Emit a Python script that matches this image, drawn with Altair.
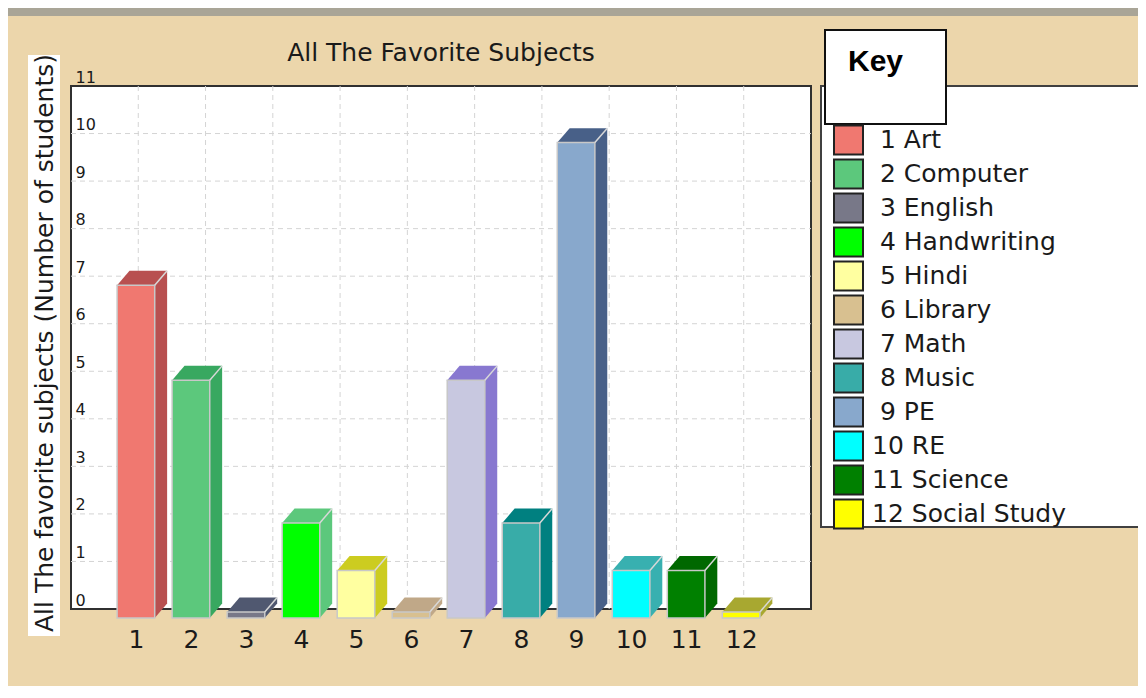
import altair as alt
import pandas as pd

# ---------------- data ----------------
subjects = ["Art", "Computer", "English", "Handwriting", "Hindi", "Library",
            "Math", "Music", "PE", "RE", "Science", "Social Study"]
counts = [7, 5, 0, 2, 1, 0, 5, 2, 10, 1, 1, 0]
x_ticks = list(range(1, 13))
y_ticks = list(range(0, 12))
front_colors = ["#F07870", "#5CC87C", "#787888", "#00FF00", "#FFFFA0", "#D8C090",
                "#C8C8E0", "#38ACA8", "#88A8CC", "#00FFFF", "#008000", "#FFFF00"]
shade_colors = ["#B85050", "#38A860", "#505870", "#5CC87C", "#CCCC20", "#C0A888",
                "#8878D0", "#008080", "#486088", "#38B0B0", "#006800", "#A8A830"]
title_text = "All The Favorite Subjects"
y_title_text = "All The favorite subjects (Number of students)"
key_text = "Key"

# ---------------- geometry ----------------
W, H = 740, 523
X_DOM = [-0.18, 13.27]
Y_DOM = [0, 11]
px_x = W / (X_DOM[1] - X_DOM[0])
px_y = H / (Y_DOM[1] - Y_DOM[0])
half_w = 18.8 / px_x
depth_x = 12.4 / px_x
depth_y = 14.4 / px_y
drop = 9 / px_y
min_h = 6 / px_y

# single-digit entries get a leading (non-trimmed) space, as in the key
labels = [("\u200b\u00a0" if i < 9 else "") + f"{i + 1} {s}" for i, s in enumerate(subjects)]

front_rows, shade_rows, edge_rows = [], [], []
for i, (lab, v) in enumerate(zip(labels, counts)):
    c = x_ticks[i]
    xl, xr = c - half_w, c + half_w
    fb = -drop
    ft = fb + max(v, min_h)
    front_rows.append(dict(label=lab, xl=xl, xr=xr, yb=fb, yt=ft))
    pts = [(xl, ft, fb), (xl + depth_x, ft + depth_y, fb),
           (xr, ft + depth_y, fb), (xr + depth_x, ft + depth_y, fb + depth_y)]
    for j, (px, py, py2) in enumerate(pts):
        shade_rows.append(dict(bar=f"b{i:02d}", k=j, px=px, top=py, bot=py2))
    edge_rows.append(dict(ex=xr, ey=ft, ex2=xr + depth_x, ey2=ft + depth_y))

front_df = pd.DataFrame(front_rows)
shade_df = pd.DataFrame(shade_rows)
edge_df = pd.DataFrame(edge_rows)
hgrid_df = pd.DataFrame({"v": y_ticks[1:11]})
span = X_DOM[1] - X_DOM[0]
vgrid_df = pd.DataFrame({"g": [X_DOM[0] + k * span / 11 for k in range(1, 11)]})
one = pd.DataFrame({"a": [0]})
bar_ids = [f"b{i:02d}" for i in range(12)]

FONT = "DejaVu Sans"
TXT = "#1a1a1a"

xscale = alt.Scale(domain=X_DOM, nice=False, zero=False)
yscale = alt.Scale(domain=Y_DOM, nice=False, zero=False)
xaxis = alt.Axis(values=x_ticks, format="d", title=None, grid=False, ticks=False,
                 tickSize=0, domain=False, labelFont=FONT, labelFontSize=25,
                 labelColor=TXT, labelPadding=18, labelFlush=False,
                 labelOverlap=False, zindex=1)
yaxis = alt.Axis(values=y_ticks, format="d", title=None, grid=False, ticks=False,
                 tickSize=0, domain=False, labelFont=FONT, labelFontSize=16,
                 labelColor=TXT, labelAlign="left", labelBaseline="alphabetic",
                 labelPadding=-4, labelOffset=-4, labelFlush=False,
                 labelOverlap=False, zindex=1)


def X(f):
    return alt.X(f, scale=xscale, axis=xaxis)


def Y(f):
    return alt.Y(f, scale=yscale, axis=yaxis)


# ---------------- decorations ----------------
strip = alt.Chart(one).mark_rect(color="#A9A597").encode(
    x=alt.value(-63), x2=alt.value(1067), y=alt.value(-78), y2=alt.value(-70))

ytitle_box = alt.Chart(one).mark_rect(color="white").encode(
    x=alt.value(-43), x2=alt.value(-11), y=alt.value(-31), y2=alt.value(550))
ytitle = alt.Chart(one).mark_text(font=FONT, fontSize=25, color=TXT, angle=270,
                                  align="center", baseline="alphabetic").encode(
    x=alt.value(-18), y=alt.value(257), text=alt.value(y_title_text))

title = alt.Chart(one).mark_text(font=FONT, fontSize=25, color=TXT,
                                 align="center", baseline="alphabetic").encode(
    x=alt.value(W / 2), y=alt.value(-25), text=alt.value(title_text))

frame = alt.Chart(one).mark_rect(fill="white", stroke="#303030", strokeWidth=2).encode(
    x=alt.value(0), x2=alt.value(W), y=alt.value(0), y2=alt.value(H))

legend_box = alt.Chart(one).mark_rect(fill="white", stroke="#404040", strokeWidth=2).encode(
    x=alt.value(750), x2=alt.value(1090), y=alt.value(0), y2=alt.value(441))
key_box = alt.Chart(one).mark_rect(fill="white", stroke="#101010", strokeWidth=2).encode(
    x=alt.value(754), x2=alt.value(875), y=alt.value(-56), y2=alt.value(38))
key_label = alt.Chart(one).mark_text(font="Liberation Sans", fontSize=30, fontWeight="bold",
                                     color="#000000", align="left", baseline="alphabetic").encode(
    x=alt.value(777), y=alt.value(-15), text=alt.value(key_text))

# ---------------- grid ----------------
hgrid = alt.Chart(hgrid_df).mark_rule(color="#D4D4D4", strokeDash=[5, 4], strokeWidth=1).encode(
    y=Y("v:Q"), x=alt.value(0), x2=alt.value(W))
vgrid = alt.Chart(vgrid_df).mark_rule(color="#D4D4D4", strokeDash=[5, 4], strokeWidth=1).encode(
    x=X("g:Q"), y=alt.value(0), y2=alt.value(H))

# ---------------- bars ----------------
shade = alt.Chart(shade_df).mark_area(interpolate="linear", opacity=1).encode(
    x=X("px:Q"), y=Y("top:Q"), y2=alt.Y2("bot:Q"),
    color=alt.Color("bar:N", scale=alt.Scale(domain=bar_ids, range=shade_colors), legend=None))

front = alt.Chart(front_df).mark_rect(stroke="#C8C8C8", strokeWidth=1.5).encode(
    x=X("xl:Q"), x2="xr:Q", y=Y("yt:Q"), y2="yb:Q",
    color=alt.Color("label:N", scale=alt.Scale(domain=labels, range=front_colors),
                    sort=labels,
                    legend=alt.Legend(orient="none", legendX=762, legendY=38.5, title=None,
                                      symbolType="square", symbolSize=841,
                                      symbolStrokeWidth=2, symbolStrokeColor="#222222",
                                      symbolOpacity=1, labelFont=FONT, labelFontSize=25,
                                      labelColor=TXT, labelOffset=8, rowPadding=-4.5,
                                      padding=0, labelLimit=400)))

edges = alt.Chart(edge_df).mark_rule(color="#D8D8D8", strokeWidth=1.5).encode(
    x=X("ex:Q"), y=Y("ey:Q"), x2="ex2:Q", y2="ey2:Q")

chart = alt.layer(
    strip, ytitle_box, ytitle, title, legend_box, key_box, key_label,
    frame, hgrid, vgrid, shade, front, edges
).resolve_scale(color="independent").properties(
    width=W, height=H,
    padding={"left": 63, "top": 78, "right": 327, "bottom": 77},
    autosize=alt.AutoSizeParams(type="none"),
    background="#ECD6AB",
).configure_view(stroke=None)

chart.save("out.html", embed_options={"renderer": "svg", "actions": False})
